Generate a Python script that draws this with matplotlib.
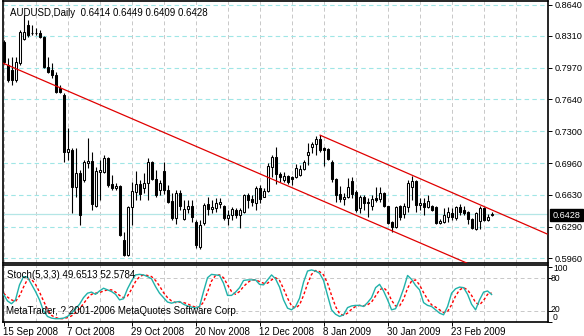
import numpy as np
import matplotlib.pyplot as plt
from matplotlib.patches import Rectangle

# ---------------------------------------------------------------------------
# Data
# ---------------------------------------------------------------------------
date_labels = ["15 Sep 2008", "7 Oct 2008", "29 Oct 2008", "20 Nov 2008",
               "12 Dec 2008", "8 Jan 2009", "30 Jan 2009", "23 Feb 2009"]
date_bars = [0, 16, 32, 48, 64, 80, 96, 112]

opens = [0.8244, 0.8000, 0.7948, 0.7842, 0.8022, 0.8275, 0.8423, 0.8339, 0.8335, 0.8339,
         0.8296, 0.7979, 0.7948, 0.7895, 0.7757, 0.7683, 0.7081, 0.7102, 0.6711, 0.6859,
         0.6785, 0.6965, 0.6986, 0.6510, 0.6869, 0.6869, 0.7017, 0.6743, 0.6700, 0.6721,
         0.6151, 0.5992, 0.6499, 0.6658, 0.6743, 0.6700, 0.6753, 0.6975, 0.6795, 0.6679,
         0.6880, 0.6679, 0.6563, 0.6383, 0.6647, 0.6373, 0.6478, 0.6510, 0.6341, 0.6076,
         0.6330, 0.6531, 0.6478, 0.6489, 0.6531, 0.6510, 0.6383, 0.6415, 0.6468, 0.6415,
         0.6447, 0.6626, 0.6584, 0.6542, 0.6700, 0.6605, 0.6668, 0.6922, 0.7028, 0.6848,
         0.6785, 0.6827, 0.6817, 0.6817, 0.6838, 0.6901, 0.7049, 0.7134, 0.7165, 0.7218,
         0.7123, 0.7112, 0.6975, 0.6795, 0.6637, 0.6584, 0.6605, 0.6774, 0.6658, 0.6489,
         0.6605, 0.6552, 0.6510, 0.6595, 0.6584, 0.6647, 0.6510, 0.6341, 0.6288, 0.6510,
         0.6425, 0.6499, 0.6711, 0.6774, 0.6521, 0.6542, 0.6499, 0.6510, 0.6499, 0.6330,
         0.6341, 0.6394, 0.6436, 0.6383, 0.6499, 0.6468, 0.6447, 0.6373, 0.6267, 0.6351,
         0.6489, 0.6362, 0.6414]
highs = [0.8265, 0.8074, 0.8085, 0.8085, 0.8370, 0.8529, 0.8476, 0.8423, 0.8392, 0.8370,
         0.8307, 0.8085, 0.8022, 0.7926, 0.7789, 0.7704, 0.7334, 0.7123, 0.7123, 0.6890,
         0.6996, 0.7229, 0.7081, 0.6922, 0.6996, 0.7049, 0.7028, 0.6838, 0.6753, 0.6732,
         0.6235, 0.6510, 0.6764, 0.6880, 0.6785, 0.6859, 0.7017, 0.6986, 0.6890, 0.6785,
         0.6975, 0.6732, 0.6647, 0.6679, 0.6679, 0.6573, 0.6573, 0.6573, 0.6362, 0.6362,
         0.6542, 0.6605, 0.6573, 0.6595, 0.6595, 0.6521, 0.6468, 0.6499, 0.6489, 0.6489,
         0.6637, 0.6647, 0.6626, 0.6721, 0.6732, 0.6700, 0.6965, 0.7049, 0.7134, 0.6869,
         0.6869, 0.6838, 0.6827, 0.6954, 0.6944, 0.6996, 0.7176, 0.7187, 0.7250, 0.7261,
         0.7134, 0.7123, 0.6996, 0.6806, 0.6721, 0.6647, 0.6806, 0.6817, 0.6679, 0.6626,
         0.6626, 0.6595, 0.6626, 0.6711, 0.6711, 0.6658, 0.6510, 0.6351, 0.6510, 0.6521,
         0.6542, 0.6785, 0.6827, 0.6785, 0.6595, 0.6595, 0.6626, 0.6521, 0.6510, 0.6373,
         0.6489, 0.6499, 0.6489, 0.6510, 0.6531, 0.6510, 0.6457, 0.6383, 0.6447, 0.6510,
         0.6499, 0.6425, 0.6449]
lows = [0.8011, 0.7821, 0.7789, 0.7821, 0.8000, 0.8265, 0.8296, 0.8318, 0.8318, 0.8290,
        0.7969, 0.7916, 0.7863, 0.7704, 0.7704, 0.6975, 0.6996, 0.6436, 0.6605, 0.6309,
        0.6764, 0.6912, 0.6468, 0.6499, 0.6573, 0.6859, 0.6711, 0.6679, 0.6679, 0.6193,
        0.5981, 0.5981, 0.6309, 0.6573, 0.6573, 0.6647, 0.6573, 0.6785, 0.6605, 0.6626,
        0.6637, 0.6542, 0.6362, 0.6320, 0.6468, 0.6362, 0.6436, 0.6341, 0.6066, 0.6055,
        0.6309, 0.6415, 0.6436, 0.6447, 0.6489, 0.6362, 0.6309, 0.6362, 0.6383, 0.6278,
        0.6436, 0.6489, 0.6510, 0.6468, 0.6542, 0.6605, 0.6658, 0.6817, 0.6743, 0.6764,
        0.6764, 0.6743, 0.6732, 0.6806, 0.6827, 0.6890, 0.6944, 0.7070, 0.7049, 0.7081,
        0.6933, 0.6996, 0.6764, 0.6552, 0.6552, 0.6521, 0.6595, 0.6595, 0.6447, 0.6436,
        0.6468, 0.6394, 0.6468, 0.6552, 0.6552, 0.6499, 0.6320, 0.6235, 0.6278, 0.6362,
        0.6383, 0.6447, 0.6573, 0.6447, 0.6468, 0.6415, 0.6489, 0.6457, 0.6320, 0.6320,
        0.6330, 0.6341, 0.6362, 0.6362, 0.6415, 0.6415, 0.6320, 0.6267, 0.6256, 0.6267,
        0.6351, 0.6351, 0.6409]
closes = [0.8032, 0.7842, 0.7842, 0.8032, 0.8349, 0.8349, 0.8318, 0.8335, 0.8339, 0.8296,
          0.7979, 0.7926, 0.7895, 0.7715, 0.7715, 0.7081, 0.7112, 0.6711, 0.6859, 0.6415,
          0.6975, 0.6986, 0.6531, 0.6880, 0.6890, 0.7017, 0.6732, 0.6700, 0.6721, 0.6203,
          0.5992, 0.6499, 0.6668, 0.6743, 0.6637, 0.6753, 0.6975, 0.6795, 0.6626, 0.6753,
          0.6679, 0.6552, 0.6383, 0.6647, 0.6510, 0.6478, 0.6510, 0.6394, 0.6098, 0.6309,
          0.6521, 0.6478, 0.6499, 0.6542, 0.6552, 0.6383, 0.6415, 0.6478, 0.6415, 0.6468,
          0.6626, 0.6573, 0.6552, 0.6700, 0.6584, 0.6668, 0.6933, 0.7028, 0.6848, 0.6817,
          0.6827, 0.6764, 0.6795, 0.6912, 0.6901, 0.6975, 0.7081, 0.7165, 0.7218, 0.7102,
          0.7102, 0.7007, 0.6795, 0.6626, 0.6584, 0.6605, 0.6711, 0.6637, 0.6468, 0.6605,
          0.6542, 0.6542, 0.6584, 0.6573, 0.6647, 0.6510, 0.6330, 0.6288, 0.6499, 0.6394,
          0.6510, 0.6753, 0.6774, 0.6521, 0.6542, 0.6499, 0.6563, 0.6468, 0.6330, 0.6351,
          0.6415, 0.6447, 0.6394, 0.6499, 0.6447, 0.6436, 0.6373, 0.6278, 0.6436, 0.6489,
          0.6362, 0.6394, 0.6428]

stoch_main = [50, 38, 33, 40, 67, 82, 81, 68, 55, 40, 20, 10, 7, 6, 6, 7, 10, 16, 24, 32,
              44, 52, 54, 50, 56, 61, 58, 55, 50, 40, 42, 60, 74, 85, 86, 85, 82, 78, 64, 52,
              44, 36, 34, 36, 37, 32, 29, 27, 25, 28, 55, 80, 86, 85, 84, 70, 48, 48, 54, 62,
              75, 76, 76, 76, 68, 67, 76, 85, 78, 63, 40, 25, 22, 28, 43, 72, 92, 94, 92, 88,
              75, 48, 22, 14, 10, 13, 26, 29, 30, 30, 28, 35, 44, 62, 68, 56, 40, 22, 24, 40,
              60, 84, 77, 66, 58, 35, 30, 28, 22, 16, 13, 28, 52, 60, 63, 62, 50, 32, 22, 40,
              54, 56, 49.6513]
stoch_signal = [52, 45, 40, 37, 47, 63, 77, 77, 68, 54, 38, 23, 12, 8, 6, 6, 8, 11, 17, 24,
                33, 43, 50, 52, 53, 56, 58, 58, 54, 48, 44, 47, 59, 73, 82, 85, 84, 82, 75, 65,
                53, 44, 38, 35, 36, 35, 33, 29, 27, 27, 36, 54, 74, 84, 85, 80, 67, 55, 50, 55,
                64, 71, 76, 76, 73, 70, 70, 76, 80, 75, 60, 43, 29, 25, 31, 48, 69, 86, 93, 91,
                85, 70, 48, 28, 15, 12, 16, 23, 28, 30, 29, 31, 36, 47, 58, 62, 55, 39, 29, 29,
                41, 61, 74, 76, 67, 53, 41, 31, 27, 22, 17, 19, 31, 47, 58, 62, 58, 48, 35, 31,
                39, 50, 52.5784]

price_ticks = [0.8640, 0.8310, 0.7970, 0.7640, 0.7300, 0.6960, 0.6630, 0.6290, 0.5960]
lower_line = [(0, 0.8018), (100, 0.6195)]
upper_line = [(79, 0.7261), (136, 0.6212)]
bid = 0.6428

# ---------------------------------------------------------------------------
# Layout (pixel based, 584 x 336)
# ---------------------------------------------------------------------------
W, H = 584, 336
plt.rcParams["font.family"] = ["Liberation Sans", "DejaVu Sans"]
FS = 6.6

fig = plt.figure(figsize=(W / 100, H / 100), dpi=100)
fig.patch.set_facecolor("white")

def px_axes(x0, y0, x1, y1):
    return fig.add_axes([x0 / W, 1 - y1 / H, (x1 - x0) / W, (y1 - y0) / H])

ax = px_axes(3, 1, 548, 263)
ax2 = px_axes(3, 265, 548, 322)

XMIN, XMAX = -0.125, 136.1
GRID_H = "#9fe6e6"
GRID_V = "#c8c8c8"

for a in (ax, ax2):
    a.set_xlim(XMIN, XMAX)
    for s in a.spines.values():
        s.set_color("black")
        s.set_linewidth(1.2)
    a.tick_params(axis="x", bottom=False, labelbottom=False)
    a.yaxis.tick_right()
    a.tick_params(axis="y", length=3, width=0.7, pad=1.5, labelsize=FS,
                  colors="black", direction="out")
    for gx in range(0, 137, 8):
        a.axvline(gx, color=GRID_V, lw=0.7, ls=(0, (4, 3)), zorder=0)

# ---------------------------------------------------------------------------
# Main price panel
# ---------------------------------------------------------------------------
ax.set_ylim(0.59074, 0.86770)
ax.set_yticks(price_ticks)
ax.set_yticklabels([f"{p:.4f}" for p in price_ticks])
for p in price_ticks:
    ax.axhline(p, color=GRID_H, lw=0.8, ls=(0, (4, 3)), zorder=0)
ax.axhline(bid, color="#b4e6e6", lw=0.9, zorder=1)

x = np.arange(len(opens))
o, h, l, c = (np.array(v) for v in (opens, highs, lows, closes))
up = c >= o
lo = np.minimum(o, c)
hgt = np.maximum(np.abs(c - o), 0.00025)

ax.vlines(x, l, h, color="black", lw=0.8, zorder=2)
ax.bar(x[up], hgt[up], bottom=lo[up], width=0.5, color="white",
       edgecolor="black", lw=0.75, zorder=3)
ax.bar(x[~up], hgt[~up], bottom=lo[~up], width=0.5, color="black",
       edgecolor="black", lw=0.75, zorder=3)

# channel lines
ax.axline(lower_line[0], lower_line[1], color="#e00000", lw=0.9, zorder=4)
ax.plot([upper_line[0][0], upper_line[1][0]], [upper_line[0][1], upper_line[1][1]],
        color="#e00000", lw=0.9, zorder=4, solid_capstyle="butt")

ax.text(0.012, 0.975,
        f"AUDUSD,Daily  {opens[-1]:.4f} {highs[-1]:.4f} {lows[-1]:.4f} {closes[-1]:.4f}",
        transform=ax.transAxes, fontsize=FS + 0.4, va="top", ha="left")

# current price box on the right axis
fig.patches.append(Rectangle((550 / W, 1 - 221 / H), 33 / W, 12 / H,
                             transform=fig.transFigure, facecolor="black",
                             edgecolor="black", zorder=5))
fig.text(566.5 / W, 1 - 215 / H, f"{bid:.4f}", color="white", fontsize=FS,
         ha="center", va="center", zorder=6)

# ---------------------------------------------------------------------------
# Stochastic panel
# ---------------------------------------------------------------------------
ax2.set_ylim(0.26, 102.9)
ax2.set_yticks([100, 80, 20, 0])
ax2.set_yticklabels([])
for lv in (80, 20):
    ax2.axhline(lv, color=GRID_V, lw=0.7, ls=(0, (4, 3)), zorder=0)
for lv, xpx, ypx in ((100, 553, 268.5), (80, 551, 278.5), (20, 551, 309.5), (0, 553, 318)):
    fig.text(xpx / W, 1 - ypx / H, str(lv), fontsize=FS - 0.4, ha="left", va="center")

ax2.plot(x, stoch_main, color="#20b2aa", lw=1.0, zorder=3)
ax2.plot(x, stoch_signal, color="red", lw=1.0, ls=(0, (2, 1.6)), zorder=2)

ax2.text(0.008, 0.83, f"Stoch(5,3,3) {stoch_main[-1]:.4f} {stoch_signal[-1]:.4f}",
         transform=ax2.transAxes, fontsize=FS + 0.4, va="center", ha="left", zorder=5)
ax2.text(0.006, 0.2, "MetaTrader, ? 2001-2006 MetaQuotes Software Corp.",
         transform=ax2.transAxes, fontsize=FS + 0.4, va="center", ha="left", zorder=5)

# date axis
ax2.set_xticks(date_bars)
ax2.tick_params(axis="x", bottom=True, length=3, width=0.7, direction="out",
                labelbottom=False)
for b, lab in zip(date_bars, date_labels):
    ax2.annotate(lab, (b, 0), xycoords=("data", "axes fraction"),
                 xytext=(-1, -5), textcoords="offset pixels",
                 fontsize=FS + 0.4, ha="left", va="top")

fig.savefig("out.png", dpi=100)
